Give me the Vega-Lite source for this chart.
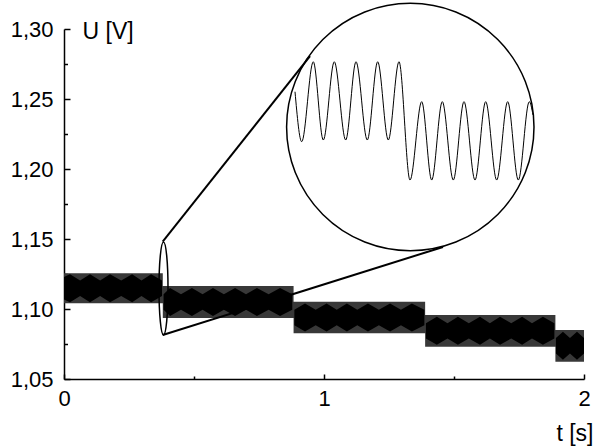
{
  "$schema": "https://vega.github.io/schema/vega-lite/v6.json",
  "width": 520,
  "height": 350,
  "autosize": {"type": "none"},
  "padding": {"left": 64, "top": 29, "right": 12, "bottom": 68},
  "background": "white",
  "config": {
    "view": {"stroke": null},
    "font": "Liberation Sans",
    "axis": {"grid": false, "domainColor": "black", "tickColor": "black", "labelColor": "black", "titleColor": "black", "labelFont": "Liberation Sans", "titleFont": "Liberation Sans", "titleFontWeight": "normal", "labelOverlap": false}
  },
  "datasets": {
    "band": [
      {"t": 0, "lo": 1.1041, "hi": 1.1255},
      {"t": 0.38, "lo": 1.0936, "hi": 1.1164},
      {"t": 0.883, "lo": 1.0826, "hi": 1.1052},
      {"t": 1.389, "lo": 1.0731, "hi": 1.0957},
      {"t": 1.89, "lo": 1.0624, "hi": 1.085},
      {"t": 2.0, "lo": 1.0624, "hi": 1.085}
    ],
    "blobs": [
      {"s": 1, "t": 0.0, "lo": 1.1068, "hi": 1.1228},
      {"s": 1, "t": 0.023, "lo": 1.1048, "hi": 1.1248},
      {"s": 1, "t": 0.062, "lo": 1.1093, "hi": 1.1203},
      {"s": 1, "t": 0.1, "lo": 1.1048, "hi": 1.1248},
      {"s": 1, "t": 0.139, "lo": 1.1093, "hi": 1.1203},
      {"s": 1, "t": 0.177, "lo": 1.1048, "hi": 1.1248},
      {"s": 1, "t": 0.22, "lo": 1.1093, "hi": 1.1203},
      {"s": 1, "t": 0.262, "lo": 1.1048, "hi": 1.1248},
      {"s": 1, "t": 0.298, "lo": 1.1093, "hi": 1.1203},
      {"s": 1, "t": 0.335, "lo": 1.1048, "hi": 1.1248},
      {"s": 1, "t": 0.377, "lo": 1.1093, "hi": 1.1203},
      {"s": 2, "t": 0.383, "lo": 1.0995, "hi": 1.1105},
      {"s": 2, "t": 0.408, "lo": 1.095, "hi": 1.115},
      {"s": 2, "t": 0.45, "lo": 1.0995, "hi": 1.1105},
      {"s": 2, "t": 0.492, "lo": 1.095, "hi": 1.115},
      {"s": 2, "t": 0.533, "lo": 1.0995, "hi": 1.1105},
      {"s": 2, "t": 0.573, "lo": 1.095, "hi": 1.115},
      {"s": 2, "t": 0.615, "lo": 1.0995, "hi": 1.1105},
      {"s": 2, "t": 0.658, "lo": 1.095, "hi": 1.115},
      {"s": 2, "t": 0.7, "lo": 1.0995, "hi": 1.1105},
      {"s": 2, "t": 0.742, "lo": 1.095, "hi": 1.115},
      {"s": 2, "t": 0.787, "lo": 1.0995, "hi": 1.1105},
      {"s": 2, "t": 0.831, "lo": 1.095, "hi": 1.115},
      {"s": 2, "t": 0.878, "lo": 1.0995, "hi": 1.1105},
      {"s": 3, "t": 0.886, "lo": 1.0884, "hi": 1.0994},
      {"s": 3, "t": 0.927, "lo": 1.0839, "hi": 1.1039},
      {"s": 3, "t": 0.968, "lo": 1.0884, "hi": 1.0994},
      {"s": 3, "t": 1.01, "lo": 1.0839, "hi": 1.1039},
      {"s": 3, "t": 1.049, "lo": 1.0884, "hi": 1.0994},
      {"s": 3, "t": 1.088, "lo": 1.0839, "hi": 1.1039},
      {"s": 3, "t": 1.128, "lo": 1.0884, "hi": 1.0994},
      {"s": 3, "t": 1.169, "lo": 1.0839, "hi": 1.1039},
      {"s": 3, "t": 1.211, "lo": 1.0884, "hi": 1.0994},
      {"s": 3, "t": 1.254, "lo": 1.0839, "hi": 1.1039},
      {"s": 3, "t": 1.296, "lo": 1.0884, "hi": 1.0994},
      {"s": 3, "t": 1.338, "lo": 1.0839, "hi": 1.1039},
      {"s": 3, "t": 1.386, "lo": 1.0884, "hi": 1.0994},
      {"s": 4, "t": 1.392, "lo": 1.0789, "hi": 1.0899},
      {"s": 4, "t": 1.434, "lo": 1.0744, "hi": 1.0944},
      {"s": 4, "t": 1.475, "lo": 1.0789, "hi": 1.0899},
      {"s": 4, "t": 1.515, "lo": 1.0744, "hi": 1.0944},
      {"s": 4, "t": 1.557, "lo": 1.0789, "hi": 1.0899},
      {"s": 4, "t": 1.6, "lo": 1.0744, "hi": 1.0944},
      {"s": 4, "t": 1.638, "lo": 1.0789, "hi": 1.0899},
      {"s": 4, "t": 1.677, "lo": 1.0744, "hi": 1.0944},
      {"s": 4, "t": 1.72, "lo": 1.0789, "hi": 1.0899},
      {"s": 4, "t": 1.762, "lo": 1.0744, "hi": 1.0944},
      {"s": 4, "t": 1.8, "lo": 1.0789, "hi": 1.0899},
      {"s": 4, "t": 1.842, "lo": 1.0744, "hi": 1.0944},
      {"s": 4, "t": 1.886, "lo": 1.0789, "hi": 1.0899},
      {"s": 5, "t": 1.892, "lo": 1.0682, "hi": 1.0792},
      {"s": 5, "t": 1.919, "lo": 1.0637, "hi": 1.0837},
      {"s": 5, "t": 1.946, "lo": 1.0682, "hi": 1.0792},
      {"s": 5, "t": 1.973, "lo": 1.0637, "hi": 1.0837},
      {"s": 5, "t": 2.0, "lo": 1.0682, "hi": 1.0792}
    ],
    "lens": [{"t": 0.3827, "u": 1.1146}],
    "ring": [{"t": 1.3319, "u": 1.23}],
    "links": [
      {"t1": 0.3796, "u1": 1.1481, "t2": 0.9462, "u2": 1.2807},
      {"t1": 0.3796, "u1": 1.0814, "t2": 1.4577, "u2": 1.1443}
    ],
    "wave": [
      {"t": 0.8885, "u": 1.2552},
      {"t": 0.9142, "u": 1.2195},
      {"t": 0.9588, "u": 1.2766},
      {"t": 0.9973, "u": 1.2207},
      {"t": 1.0396, "u": 1.2766},
      {"t": 1.0835, "u": 1.2207},
      {"t": 1.1231, "u": 1.2766},
      {"t": 1.1665, "u": 1.2207},
      {"t": 1.2065, "u": 1.2766},
      {"t": 1.2473, "u": 1.2207},
      {"t": 1.2885, "u": 1.2766},
      {"t": 1.3308, "u": 1.1921},
      {"t": 1.3758, "u": 1.2481},
      {"t": 1.4142, "u": 1.1921},
      {"t": 1.455, "u": 1.2481},
      {"t": 1.4973, "u": 1.1921},
      {"t": 1.5385, "u": 1.2481},
      {"t": 1.5808, "u": 1.1921},
      {"t": 1.6219, "u": 1.2481},
      {"t": 1.6642, "u": 1.1921},
      {"t": 1.7065, "u": 1.2481},
      {"t": 1.7473, "u": 1.1921},
      {"t": 1.7896, "u": 1.2481},
      {"t": 1.8038, "u": 1.2386}
    ]
  },
  "resolve": {"axis": {"x": "independent", "y": "independent"}},
  "layer": [
    {
      "data": {"name": "band"},
      "mark": {"type": "area", "interpolate": "step-after", "color": "#383838"},
      "encoding": {
        "x": {"field": "t", "type": "quantitative", "scale": {"domain": [0, 2], "nice": false, "zero": false},
          "axis": {"orient": "bottom", "tickCount": 2, "labelExpr": "format(datum.value, 'd')", "tickSize": -5, "tickWidth": 1.5, "domainWidth": 1.5, "labelFontSize": 22, "labelPadding": 14, "labelFlush": false, "labelOverlap": false, "labelBound": false,
            "title": "t [s]", "titleFontSize": 23, "titleAlign": "right", "titleAnchor": null, "titleBaseline": "alphabetic", "titleX": 529, "titleY": 61}},
        "y": {"field": "lo", "type": "quantitative", "scale": {"domain": [1.05, 1.3], "nice": false, "zero": false},
          "axis": {"orient": "left", "values": [1.05, 1.1, 1.15, 1.2, 1.25, 1.3], "labelExpr": "replace(format(datum.value, '.2f'), '.', ',')", "tickSize": -6, "tickWidth": 1.5, "domainWidth": 1.5, "labelFontSize": 22, "labelPadding": 17, "labelFlush": false, "labelOverlap": false,
            "title": "U [V]", "titleFontSize": 23, "titleAngle": 0, "titleAlign": "left", "titleAnchor": null, "titleBaseline": "alphabetic", "titleX": 18, "titleY": 9.5}},
        "y2": {"field": "hi"}
      }
    },
    {
      "data": {"name": "blobs"},
      "mark": {"type": "area", "color": "black"},
      "encoding": {
        "detail": {"field": "s"},
        "x": {"field": "t", "type": "quantitative", "scale": {"domain": [0, 2], "nice": false, "zero": false},
          "axis": {"orient": "bottom", "values": [0.5, 1.5], "tickSize": -3, "tickWidth": 1.5, "labels": false, "domain": false, "title": null}},
        "y": {"field": "lo", "type": "quantitative", "scale": {"domain": [1.05, 1.3], "nice": false, "zero": false},
          "axis": {"orient": "left", "values": [1.075, 1.125, 1.175, 1.225, 1.275], "tickSize": -3.5, "tickWidth": 1.5, "labels": false, "domain": false, "title": null}},
        "y2": {"field": "hi"}
      }
    },
    {
      "data": {"name": "lens"},
      "mark": {"type": "point", "filled": false, "stroke": "black", "strokeWidth": 1.5, "opacity": 1, "size": 8649,
        "shape": "M0,-1C0.0536,-1,0.097,-0.5523,0.097,0C0.097,0.5523,0.0536,1,0,1C-0.0536,1,-0.097,0.5523,-0.097,0C-0.097,-0.5523,-0.0536,-1,0,-1Z"},
      "encoding": {
        "x": {"field": "t", "type": "quantitative", "scale": {"domain": [0, 2], "nice": false, "zero": false}, "axis": null},
        "y": {"field": "u", "type": "quantitative", "scale": {"domain": [1.05, 1.3], "nice": false, "zero": false}, "axis": null}
      }
    },
    {
      "data": {"name": "links"},
      "mark": {"type": "rule", "color": "black", "strokeWidth": 2},
      "encoding": {
        "x": {"field": "t1", "type": "quantitative", "scale": {"domain": [0, 2], "nice": false, "zero": false}, "axis": null},
        "y": {"field": "u1", "type": "quantitative", "scale": {"domain": [1.05, 1.3], "nice": false, "zero": false}, "axis": null},
        "x2": {"field": "t2"},
        "y2": {"field": "u2"}
      }
    },
    {
      "data": {"name": "ring"},
      "mark": {"type": "point", "shape": "circle", "filled": false, "stroke": "black", "strokeWidth": 1.5, "opacity": 1, "size": 61207},
      "encoding": {
        "x": {"field": "t", "type": "quantitative", "scale": {"domain": [0, 2], "nice": false, "zero": false}, "axis": null},
        "y": {"field": "u", "type": "quantitative", "scale": {"domain": [1.05, 1.3], "nice": false, "zero": false}, "axis": null}
      }
    },
    {
      "data": {"name": "wave"},
      "mark": {"type": "line", "color": "black", "strokeWidth": 1, "interpolate": "monotone"},
      "encoding": {
        "x": {"field": "t", "type": "quantitative", "scale": {"domain": [0, 2], "nice": false, "zero": false}, "axis": null},
        "y": {"field": "u", "type": "quantitative", "scale": {"domain": [1.05, 1.3], "nice": false, "zero": false}, "axis": null}
      }
    }
  ]
}
